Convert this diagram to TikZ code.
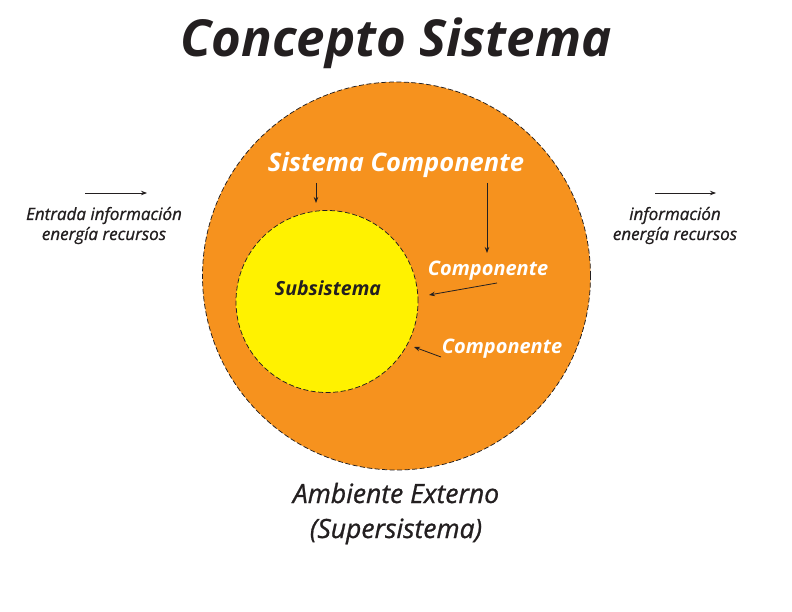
\documentclass[tikz,border=0pt]{standalone}
\usepackage{fontspec}
\setmainfont{Open Sans}
\newfontfamily\semifont{Open Sans}[ItalicFeatures={FakeBold=0.9}]
\usetikzlibrary{arrows.meta}
\definecolor{orng}{HTML}{F6921E}
\definecolor{yell}{HTML}{FFF200}
\definecolor{ink}{HTML}{231F20}
\tikzset{
  lbl/.style={text=ink, inner sep=0pt, anchor=base},
  wlbl/.style={text=white, inner sep=0pt, anchor=base},
  ptr/.style={draw=ink, line width=0.8pt, -{Stealth[length=6pt,width=4.5pt]}},
  ring/.style={draw=ink, dash pattern=on 5pt off 2.5pt, line width=0.75pt}
}
\begin{document}
\begin{tikzpicture}[x=1pt,y=-1pt]
\useasboundingbox (0,0) rectangle (792,612);
\fill[white] (0,0) rectangle (792,612);
% circles
\node[ring, circle, fill=orng, minimum size=388pt, inner sep=0pt] (outer) at (396.5,276) {};
\node[ring, circle, fill=yell, minimum size=182pt, inner sep=0pt] (inner) at (327,301.5) {};
% title
\node[lbl, font=\fontsize{51}{56}\selectfont\bfseries\itshape] (title) at (396,57) {Concepto Sistema};
% labels
\node[wlbl, font=\fontsize{25.5}{28}\selectfont\bfseries\itshape] (sc) at (396,172) {Sistema Componente};
\node[lbl, font=\fontsize{19.5}{22}\selectfont\bfseries\itshape] (sub) at (328,295) {Subsistema};
\node[wlbl, font=\fontsize{20}{22}\selectfont\bfseries\itshape] (c1) at (488,276) {Componente};
\node[wlbl, font=\fontsize{20}{22}\selectfont\bfseries\itshape] (c2) at (502,353) {Componente};
\node[lbl, font=\semifont\fontsize{17}{20}\selectfont\itshape] (in1) at (104,220) {Entrada información};
\node[lbl, font=\semifont\fontsize{17}{20}\selectfont\itshape] (in2) at (104,240) {energía recursos};
\node[lbl, font=\semifont\fontsize{17}{20}\selectfont\itshape] (out1) at (675,220) {información};
\node[lbl, font=\semifont\fontsize{17}{20}\selectfont\itshape] (out2) at (675,240) {energía recursos};
\node[lbl, font=\semifont\fontsize{26.5}{30}\selectfont\itshape] (amb1) at (396,503) {Ambiente Externo};
\node[lbl, font=\semifont\fontsize{26.5}{30}\selectfont\itshape] (amb2) at (396,538) {(Supersistema)};
% arrow coordinates
\coordinate (a1s) at (316,183); \coordinate (a1e) at (316,203);
\coordinate (a2s) at (487,183); \coordinate (a2e) at (487,253);
\coordinate (a3s) at (497,283); \coordinate (a3e) at (429,295);
\coordinate (a4s) at (441,357); \coordinate (a4e) at (414,347);
\coordinate (l1s) at (85,193); \coordinate (l1e) at (147,193);
\coordinate (r1s) at (655,193); \coordinate (r1e) at (716,193);
\draw[ptr] (a1s) -- (a1e);
\draw[ptr] (a2s) -- (a2e);
\draw[ptr] (a3s) -- (a3e);
\draw[ptr] (a4s) -- (a4e);
\draw[ptr] (l1s) -- (l1e);
\draw[ptr] (r1s) -- (r1e);
\end{tikzpicture}
\end{document}
